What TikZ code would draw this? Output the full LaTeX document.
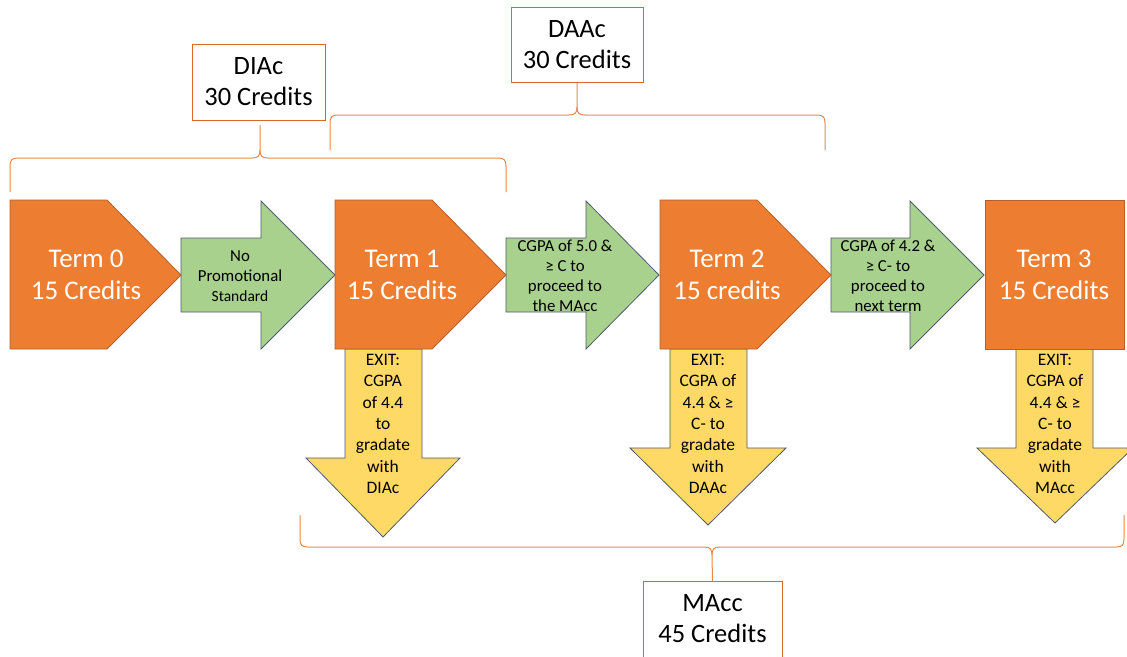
\documentclass[tikz,border=0pt]{standalone}
\usepackage{fontspec}
\setmainfont{Carlito}
\definecolor{termor}{HTML}{ED7D31}
\definecolor{termedge}{HTML}{B5602A}
\definecolor{gategreen}{HTML}{A9D18E}
\definecolor{edgeblue}{HTML}{4E5B6E}
\definecolor{exityel}{HTML}{FFD966}
\definecolor{braceor}{HTML}{E8894A}
\definecolor{boxor}{HTML}{D46A25}
\begin{document}
\begin{tikzpicture}[x=1pt,y=-1pt,
 term/.style={fill=termor,draw=termedge,line width=0.8pt},
 gate/.style={fill=gategreen,draw=edgeblue,line width=0.8pt},
 exitarr/.style={fill=exityel,draw=edgeblue,line width=0.8pt},
 brc/.style={draw=braceor,line width=1pt},
 lblbox/.style={draw=boxor,fill=white,line width=1pt,inner sep=0pt},
 lbltxt/.style={font=\fontsize{26.5}{31}\selectfont,align=center,inner sep=0pt},
 termtxt/.style={text=white,font=\fontsize{27}{32}\selectfont,align=center,inner sep=0pt},
 gatetxt/.style={font=\fontsize{16.8}{20}\selectfont,align=center,inner sep=0pt},
 exittxt/.style={font=\fontsize{17.5}{21.4}\selectfont,align=center,inner sep=0pt}]
\useasboundingbox (0,0) rectangle (1127,656);
\fill[white] (0,0) rectangle (1127,656);

% exit arrows
\draw[exitarr] (345,349) -- (422,349) -- (422,458) -- (460,458) -- (383,537) -- (306,458) -- (345,458) -- cycle;
\draw[exitarr] (670,349) -- (747,349) -- (747,448) -- (786,448) -- (708,525) -- (630,448) -- (670,448) -- cycle;
\draw[exitarr] (1016,349) -- (1093,349) -- (1093,448) -- (1133,448) -- (1055,523) -- (977,448) -- (1016,448) -- cycle;

% gate arrows
\draw[gate] (181,238) -- (261,238) -- (261,201) -- (335,275) -- (261,349) -- (261,312) -- (181,312) -- cycle;
\draw[gate] (506,238) -- (586,238) -- (586,201) -- (659,275) -- (586,349) -- (586,312) -- (506,312) -- cycle;
\draw[gate] (831,238) -- (910,238) -- (910,201) -- (984,275) -- (910,349) -- (910,312) -- (831,312) -- cycle;

% terms
\draw[term] (10,200) -- (107,200) -- (181,275) -- (107,349) -- (10,349) -- cycle;
\draw[term] (335,200) -- (432,200) -- (506,275) -- (432,349) -- (335,349) -- cycle;
\draw[term] (660,200) -- (757,200) -- (831,275) -- (757,349) -- (660,349) -- cycle;
\draw[term] (985,200) rectangle (1124,349);

\node[termtxt] (t0) at (86,275) {Term 0\\15 Credits};
\node[termtxt] (t1) at (402,275) {Term 1\\15 Credits};
\node[termtxt] (t2) at (727,275) {Term 2\\15 credits};
\node[termtxt] (t3) at (1054,275) {Term 3\\15 Credits};

\node[gatetxt] (g1) at (240,276) {No\\Promotional\\{\fontsize{15.5}{20}\selectfont Standard}};
\node[gatetxt] (g2) at (565,276) {CGPA of 5.0 \&\\≥ C to\\proceed to\\the MAcc};
\node[gatetxt] (g3) at (888,276) {CGPA of 4.2 \&\\≥ C- to\\proceed to\\next term};

\node[exittxt] (e1) at (383,424) {EXIT:\\CGPA\\of 4.4\\to\\gradate\\with\\DIAc};
\node[exittxt] (e2) at (708,424) {EXIT:\\CGPA of\\4.4 \& ≥\\C- to\\gradate\\with\\DAAc};
\node[exittxt] (e3) at (1055,424) {EXIT:\\CGPA of\\4.4 \& ≥\\C- to\\gradate\\with\\MAcc};

% label boxes
\node[lblbox,minimum width=133,minimum height=76] (diac) at (258.5,82) {};
\node[lbltxt] at (diac.center) {DIAc\\30 Credits};
\node[lblbox,minimum width=132,minimum height=75] (daac) at (577,44.5) {};
\node[lbltxt] at (daac.center) {DAAc\\30 Credits};
\node[lblbox,minimum width=139,minimum height=90,anchor=north] (macc) at (712.5,581) {};
\node[lbltxt] at (712.5,618.5) {MAcc\\45 Credits};

% braces
\coordinate (diactip) at (260,125);
\coordinate (daactip) at (577,83);
\draw[brc] (10,192) -- (10,166) .. controls (10,160) and (12,158) .. (18,158) -- (252,158)
  .. controls (258,158) and (260,156) .. (260,150) -- (diactip);
\draw[brc] (260,150) .. controls (260,156) and (262,158) .. (268,158) -- (498,158)
  .. controls (504,158) and (506,160) .. (506,166) -- (506,192);
\draw[brc] (330,150) -- (330,123) .. controls (330,117) and (332,115) .. (338,115) -- (569,115)
  .. controls (575,115) and (577,113) .. (577,107) -- (daactip);
\draw[brc] (577,107) .. controls (577,113) and (579,115) .. (585,115) -- (817,115)
  .. controls (823,115) and (825,117) .. (825,123) -- (825,150);
\draw[brc] (300,515) -- (300,539) .. controls (300,545) and (302,547) .. (308,547) -- (704,547)
  .. controls (710,547) and (712,549) .. (712,555) -- (macc.north);
\draw[brc] (712,555) .. controls (712,549) and (714,547) .. (720,547) -- (1116,547)
  .. controls (1122,547) and (1124,545) .. (1124,539) -- (1124,515);
\end{tikzpicture}
\end{document}
